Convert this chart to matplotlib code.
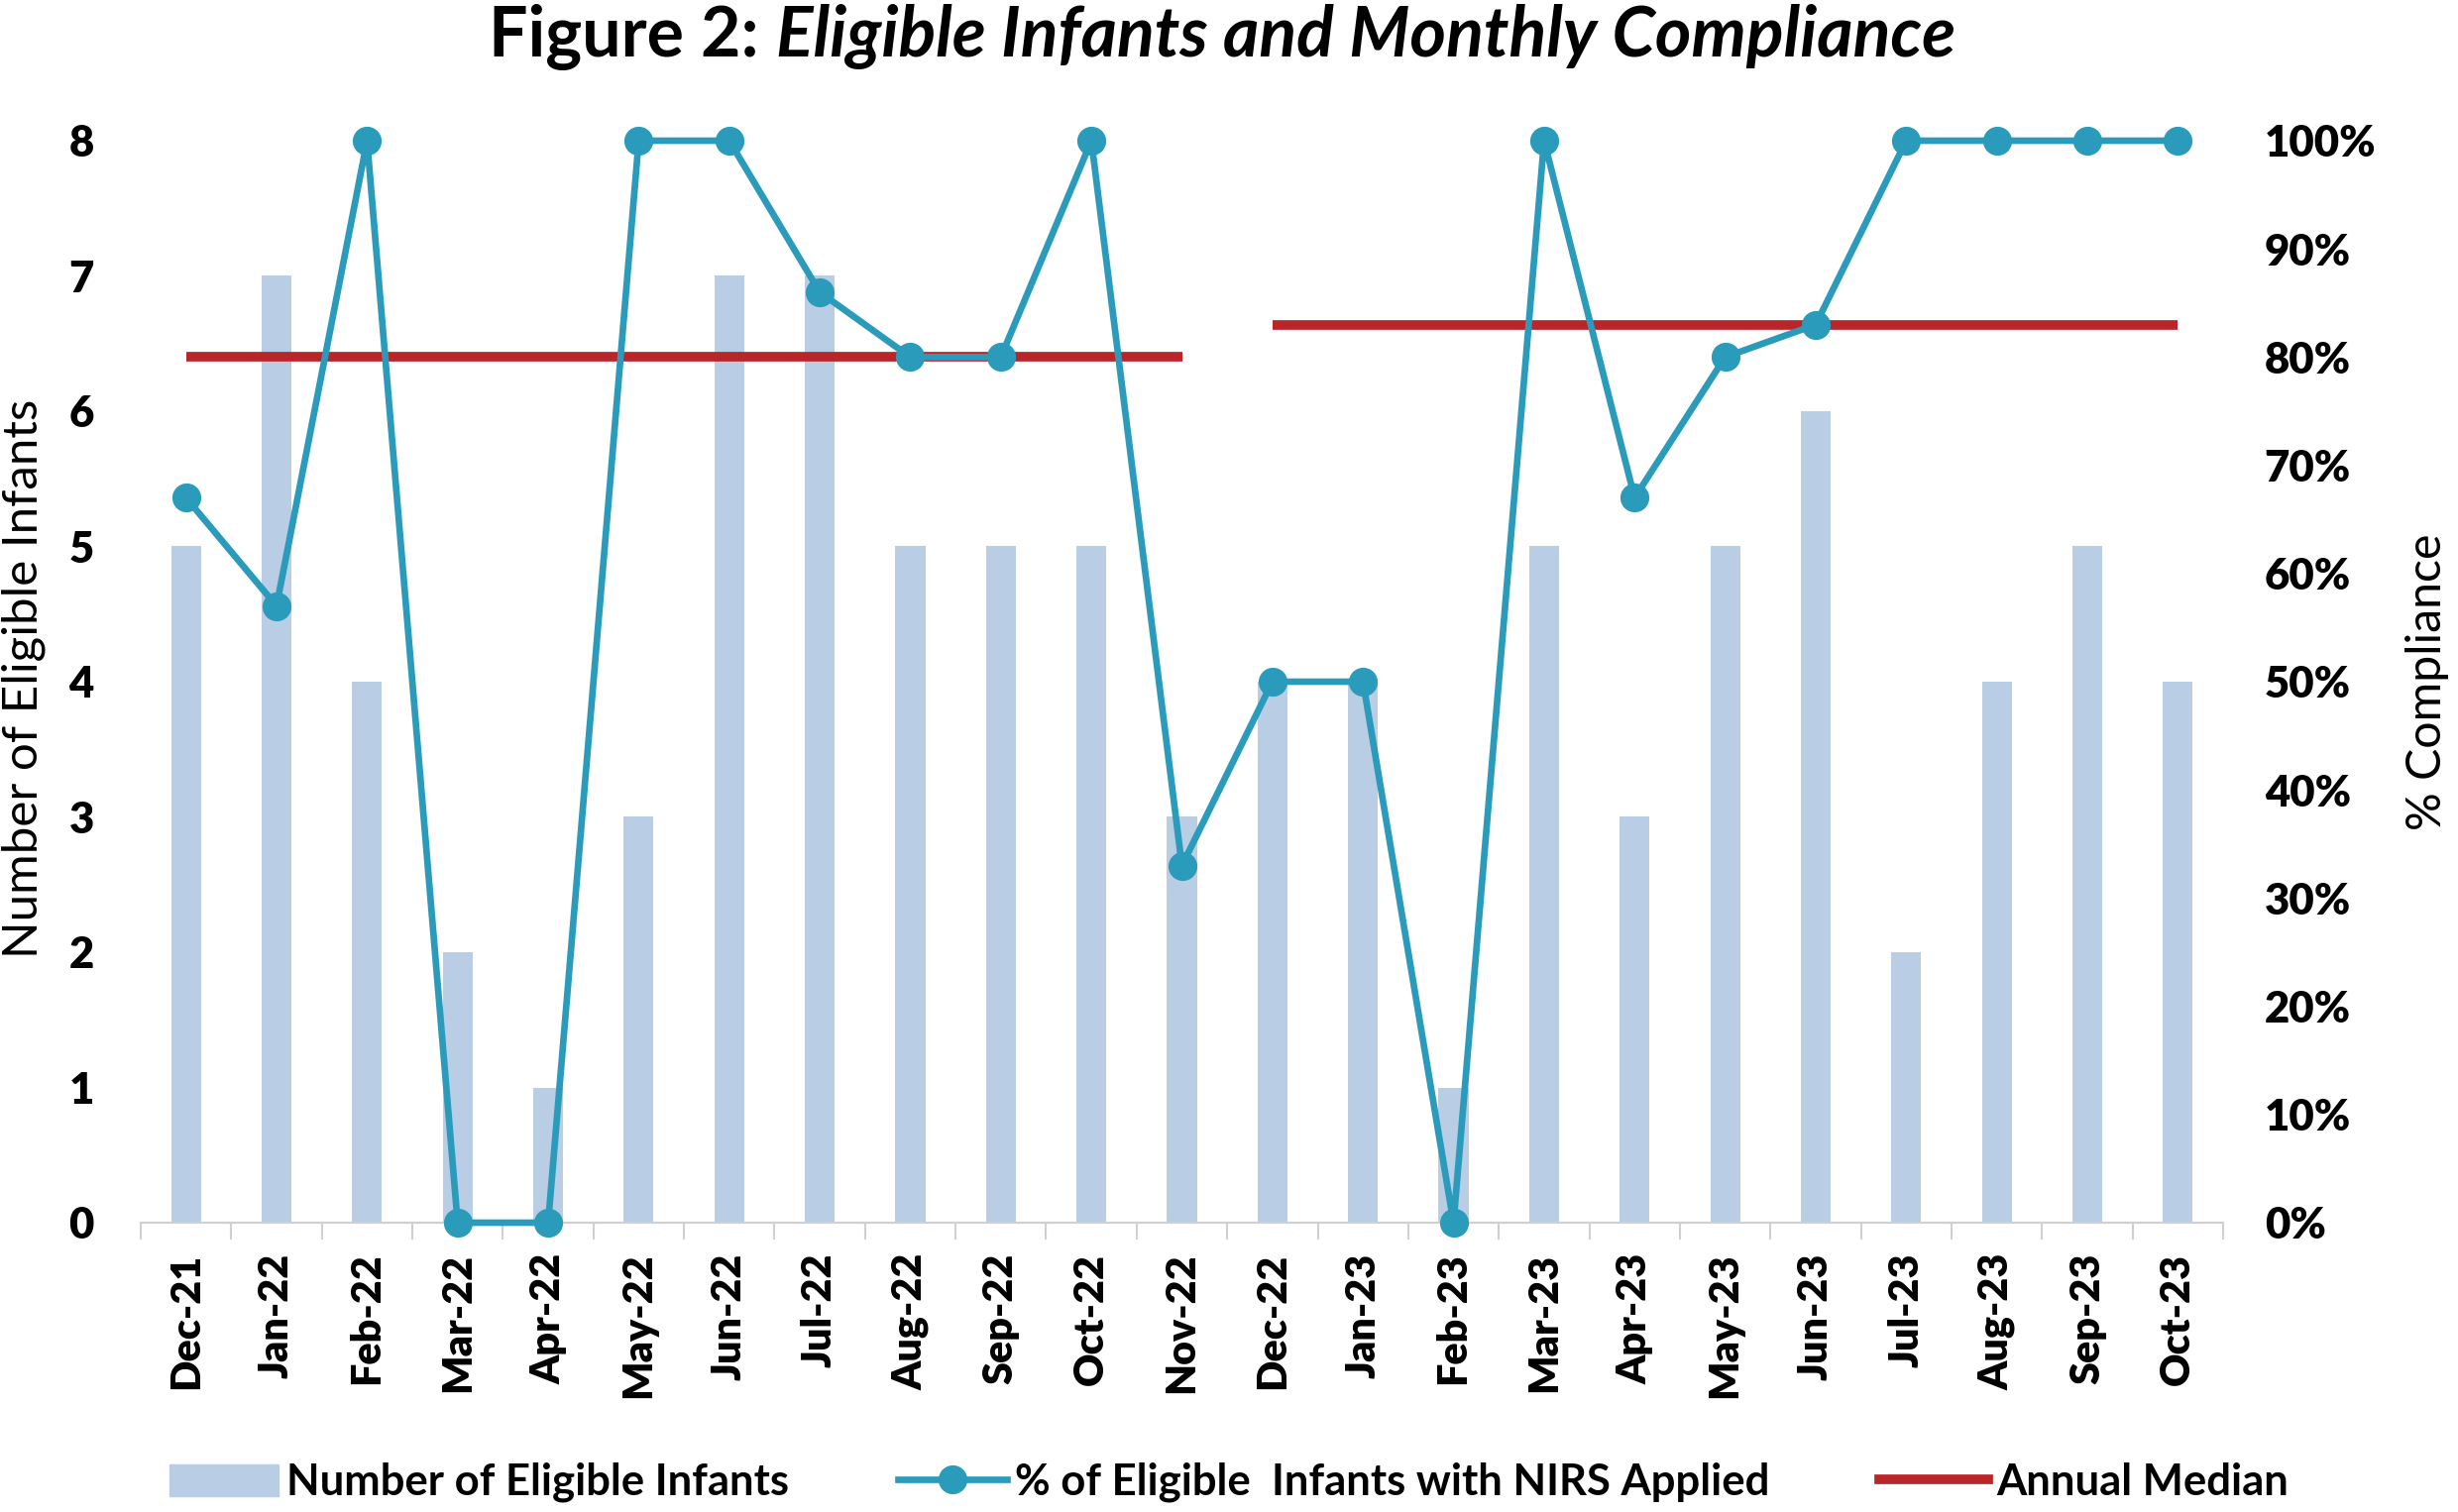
import matplotlib
matplotlib.use("Agg")
import matplotlib.pyplot as plt
import numpy as np
from matplotlib.patches import Patch
from matplotlib.lines import Line2D

months = ["Dec-21", "Jan-22", "Feb-22", "Mar-22", "Apr-22", "May-22", "Jun-22",
          "Jul-22", "Aug-22", "Sep-22", "Oct-22", "Nov-22", "Dec-22", "Jan-23",
          "Feb-23", "Mar-23", "Apr-23", "May-23", "Jun-23", "Jul-23", "Aug-23",
          "Sep-23", "Oct-23"]

eligible = [5, 7, 4, 2, 1, 3, 7, 7, 5, 5, 5, 3, 4, 4, 1, 5, 3, 5, 6, 2, 4, 5, 4]

compliance = [67, 57, 100, 0, 0, 100, 100, 86, 80, 80, 100, 33, 50, 50, 0,
              100, 67, 80, 83, 100, 100, 100, 100]

# annual medians: first month index, last month index, value %
median_start = [0, 12]
median_end = [11, 22]
median_value = [80, 83]

bar_color = "#b9cde5"
line_color = "#2a9bbb"
median_color = "#b8262a"
fam = ["Lato", "DejaVu Sans"]

W, H = 2480, 1526
fig = plt.figure(figsize=(W / 100, H / 100), dpi=100)
renderer = fig.canvas.get_renderer()


def fit(text, target_px, vertical=False, **kw):
    # font size (pt) that makes `text` target_px long
    t = fig.text(0, 0, text, fontsize=20, **kw)
    bb = t.get_window_extent(renderer)
    t.remove()
    size = bb.height if vertical else bb.width
    return 20 * target_px / size


ax = fig.add_axes([142 / W, 1 - 1234 / H, (2243 - 142) / W, (1234 - 142) / H])
ax2 = ax.twinx()

x = np.arange(len(months))
ax.bar(x, eligible, width=0.33, color=bar_color, zorder=1)
ax.set_xlim(-0.5, len(months) - 0.5)
ax.set_ylim(0, 8)
ax.set_yticks(range(0, 9))

for s0, s1, v in zip(median_start, median_end, median_value):
    ax2.plot([s0, s1], [v, v], color=median_color, lw=7, zorder=3,
             solid_capstyle="butt")
ax2.plot(x, compliance, color=line_color, lw=4.8, marker="o", ms=20,
         zorder=4, clip_on=False)
ax2.set_ylim(0, 100)
ax2.set_yticks(range(0, 101, 10))
ax2.set_yticklabels([f"{v}%" for v in range(0, 101, 10)])

xs = fit("Dec-21", 138, family=fam, fontweight="heavy")
ys = fit("100%", 112, family=fam, fontweight="heavy")

ax.set_xticks(x)
ax.set_xticklabels(months, rotation=90, fontsize=xs, fontweight="heavy",
                   family=fam)
ax.set_xticks(np.arange(-0.5, len(months), 1), minor=True)
ax.tick_params(axis="x", which="major", length=0, pad=22)
ax.tick_params(axis="x", which="minor", length=12, color="#d0d0d0", width=1.5)
ax.tick_params(axis="y", length=0, pad=34)
for lab in ax.get_yticklabels():
    lab.set_fontweight("heavy")
    lab.set_family(fam)
    lab.set_fontsize(ys)
ax2.tick_params(axis="y", length=0, pad=30)
for lab in ax2.get_yticklabels():
    lab.set_fontweight("heavy")
    lab.set_family(fam)
    lab.set_fontsize(ys)

for a in (ax, ax2):
    for side in ("top", "left", "right"):
        a.spines[side].set_visible(False)
    a.spines["bottom"].set_color("#d0d0d0")
    a.spines["bottom"].set_linewidth(1.5)

yl = fit("Number of Eligible Infants", 565, family=fam)
fig.text(24 / W, 1 - 685 / H, "Number of Eligible Infants", rotation=90,
         fontsize=yl, family=fam, ha="center", va="center")
fig.text(2449 / W, 1 - 688 / H, "% Compliance", rotation=90,
         fontsize=fit("% Compliance", 300, family=fam), family=fam,
         ha="center", va="center")

# title: plain bold part + bold italic part
title_a = "Figure 2: "
title_b = "Eligible Infants and Monthly Compliance"
ts = fit(title_a + title_b, 1543, family=fam, fontweight="bold")
t1 = fig.text(0, 1 - 57 / H, title_a, fontsize=ts, fontweight="bold",
              family=fam, va="baseline")
t2 = fig.text(0, 1 - 57 / H, title_b, fontsize=ts, fontweight="bold",
              style="italic", family=fam, va="baseline")
w1 = t1.get_window_extent(renderer).width
w2 = t2.get_window_extent(renderer).width
start = (1233 - (w1 + w2) / 2) / W
t1.set_x(start)
t2.set_x(start + w1 / W)

ls = fit("Number of Eligible Infants", 508, family=fam, fontweight="bold")
fpx = ls * 100 / 72
handles = [Patch(color=bar_color),
           Line2D([], [], color=line_color, lw=4.8, marker="o", ms=20),
           Line2D([], [], color=median_color, lw=7)]
labels = ["Number of Eligible Infants",
          "% of Eligible  Infants with NIRS Applied", "Annual Median"]
fig.legend(handles, labels, loc="center", bbox_to_anchor=(0.5, 1 - 1496 / H),
           ncol=3, frameon=False,
           prop={"family": fam, "weight": "bold", "size": ls},
           handlelength=110 / fpx, handleheight=0.75,
           handletextpad=8 / fpx, columnspacing=110 / fpx)

fig.savefig("out.png", dpi=100)
